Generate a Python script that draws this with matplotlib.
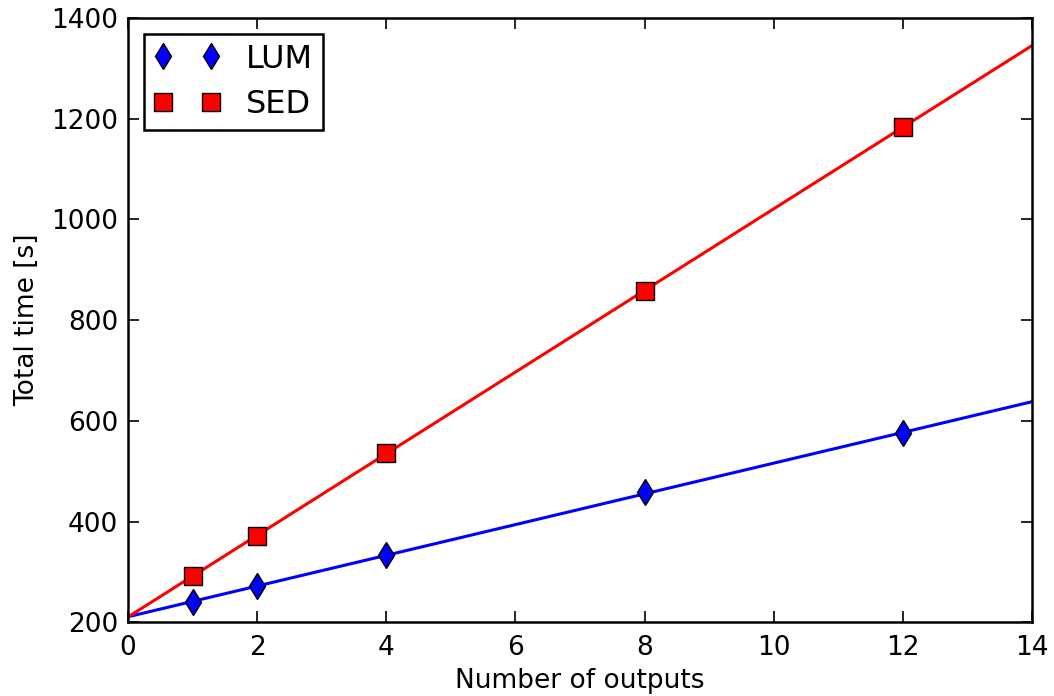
import numpy as np
import matplotlib
matplotlib.use('Agg')
import matplotlib.pyplot as plt

outputs = [1, 2, 4, 8, 12]
lum_time = [240, 272, 333, 458, 575]
sed_time = [292, 371, 537, 857, 1184]

plt.rcParams['font.family'] = 'DejaVu Sans'
plt.rcParams['font.size'] = 19

fig = plt.figure(figsize=(10.54, 6.96), dpi=100)
ax = fig.add_axes([0.1214, 0.106, 0.8577, 0.868])

xfit = np.array([0, 14])
for y, color, marker, ms, label in [(lum_time, 'blue', 'd', 13, 'LUM'),
                                    (sed_time, 'red', 's', 12.5, 'SED')]:
    k, b = np.polyfit(outputs, y, 1)
    ax.plot(xfit, k * xfit + b, '-', color=color, lw=2.2)
    ax.plot(outputs, y, linestyle='none', marker=marker, ms=ms, color=color,
            markeredgecolor='black', markeredgewidth=1, label=label)

ax.set_xlim(0, 14)
ax.set_ylim(200, 1400)
ax.set_xticks(range(0, 15, 2))
ax.set_yticks(range(200, 1401, 200))
ax.tick_params(direction='in', top=True, right=True, length=8, width=1.2)
ax.tick_params(axis='x', pad=9)
ax.tick_params(axis='y', pad=7)
for s in ax.spines.values():
    s.set_linewidth(1.8)
ax.set_xlabel('Number of outputs', labelpad=5)
ax.set_ylabel('Total time [s]', labelpad=8)

leg = ax.legend(loc='upper left', numpoints=2, fancybox=False, handlelength=2.1,
                handletextpad=0.8, borderpad=0.3, labelspacing=0.45,
                borderaxespad=0.5, fontsize=23)
leg.get_frame().set_edgecolor('black')
leg.get_frame().set_linewidth(1.8)
leg.get_frame().set_alpha(1)

fig.savefig('out.png', dpi=100)
